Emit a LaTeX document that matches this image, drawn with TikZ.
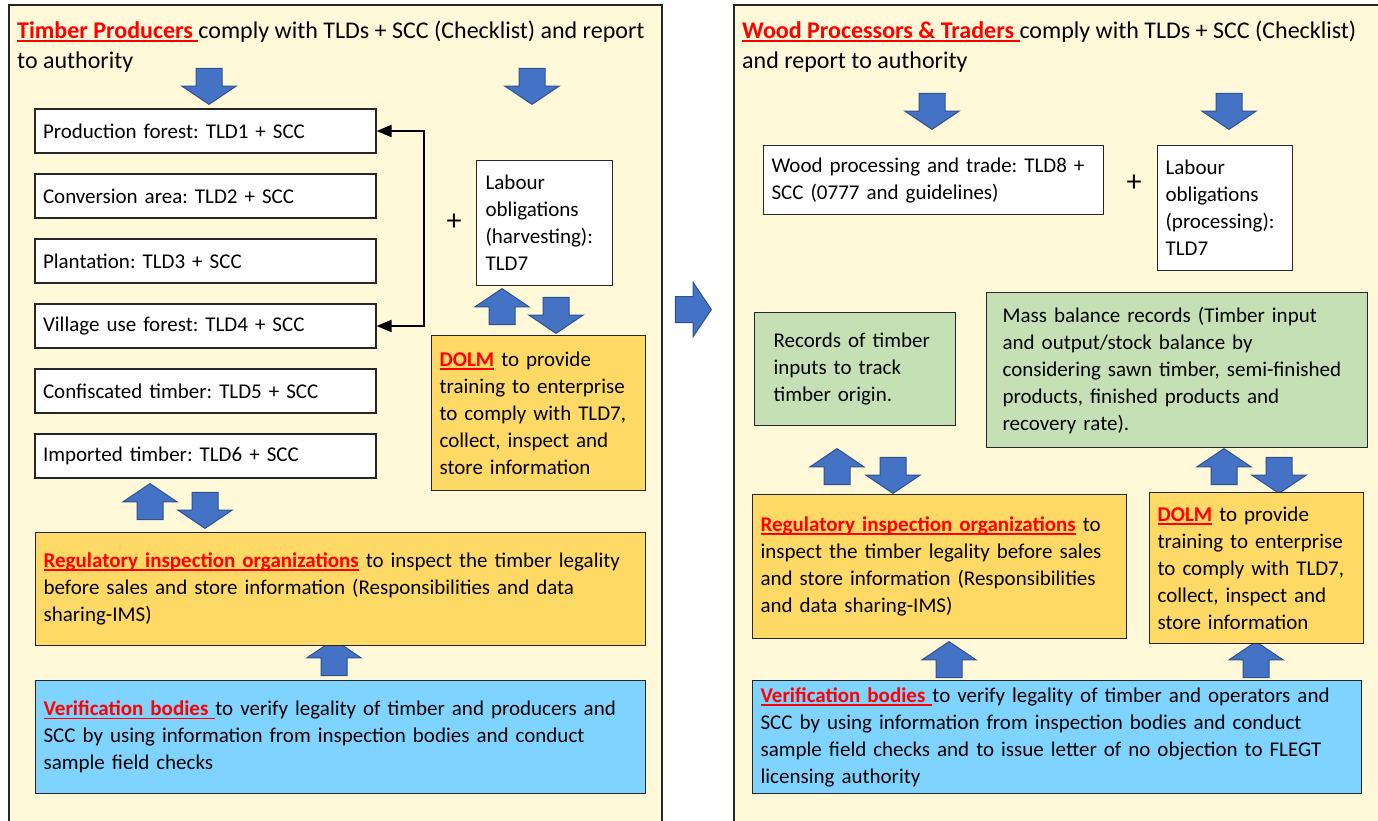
\documentclass[tikz,border=0pt]{standalone}
\usepackage{fontspec}
\setmainfont{Carlito}
\usetikzlibrary{shapes.arrows,arrows.meta}
\definecolor{panelfill}{HTML}{FFF8D9}
\definecolor{gold}{HTML}{FFD966}
\definecolor{mint}{HTML}{C5E0B4}
\definecolor{sky}{HTML}{7FD3FF}
\definecolor{arrowblue}{HTML}{4472C4}
\definecolor{arrowedge}{HTML}{2F528F}
\definecolor{edge}{HTML}{262626}
\newsavebox{\keybox}
\newcommand{\keyterm}[1]{{\color{red}\bfseries\sbox{\keybox}{#1}%
  \rlap{\rule[-3.5pt]{\wd\keybox}{1.8pt}}\usebox{\keybox}}}
\tikzset{
  panel/.style={draw=edge, line width=1.5pt, fill=panelfill},
  box/.style={draw=edge, line width=1.2pt, anchor=north west, align=left,
    inner xsep=8pt, inner ysep=0pt, font=\fontsize{21}{27}\selectfont},
  tldbox/.style={box, fill=white, anchor=center, text width=325pt, minimum height=44pt},
  blk/.style={single arrow, draw=arrowedge, fill=arrowblue, line width=1pt,
    inner xsep=0pt, inner ysep=12.5pt, single arrow head extend=14pt,
    single arrow tip angle=112, minimum height=36pt},
  blkup/.style={blk, rotate=90},
  blkdown/.style={blk, rotate=-90},
  title/.style={anchor=north west, inner sep=0pt, align=left, font=\fontsize{24}{30}\selectfont},
  plus/.style={inner sep=0pt, font=\fontsize{30}{30}\selectfont}
}
\begin{document}
\frenchspacing
\begin{tikzpicture}[x=1pt, y=-1pt]
  \useasboundingbox (0,0) rectangle (1378,820);
  \draw[panel] (9,5) rectangle (662,840);
  \draw[panel] (734,5) rectangle (1400,840);

  % block arrows
  \node foreach \x/\y/\n in {209/82/dA, 532/82/dB, 556/311/dC, 205/506/dD,
    932/107/dE, 1229/107/dF, 893/471/dG, 1279/471/dH} [blkdown] (\n) at (\x,\y) {};
  \node foreach \x/\y/\n in {502/311/uA, 150/506/uB, 334/662/uC,
    837/471/uD, 1224/471/uE, 949/664/uF, 1256/664/uG} [blkup] (\n) at (\x,\y) {};
  \node[blk] (next) at (689,309.5) {};

  % producers
  \node[title] (tp) at (17,17.5) {\strut\keyterm{Timber Producers\ }comply with TLDs + SCC (Checklist) and report\\to authority};
  \node foreach \i/\t in {1/Production forest: TLD1 + SCC, 2/Conversion area: TLD2 + SCC,
    3/Plantation: TLD3 + SCC, 4/Village use forest: TLD4 + SCC,
    5/Confiscated timber: TLD5 + SCC, 6/Imported timber: TLD6 + SCC}
    [tldbox] (tld\i) at (205.5, {131+65*(\i-1)}) {\t};
  \draw[line width=2pt, {Triangle[length=15pt,width=12pt]}-{Triangle[length=15pt,width=12pt]}]
    (tld1.east) -- ++(47,0) |- (tld4.east);
  \node[plus] (plA) at (454,222) {+};
  \node[box, fill=white, inner xsep=9pt, text width=118pt, minimum height=125pt] (labA) at (476,160)
    {Labour\\obligations\\(harvesting):\\TLD7};
  \node[box, fill=gold, text width=198pt, minimum height=155pt] (dolmA) at (431,335)
    {\keyterm{DOLM} to provide\\training to enterprise\\to comply with TLD7,\\collect, inspect and\\store information};
  \node[box, fill=gold, text width=594pt, minimum height=113pt] (regA) at (35,532)
    {\keyterm{Regulatory inspection organizations} to inspect the timber legality\\before sales and store information (Responsibilities and data\\sharing-IMS)};
  \node[box, fill=sky, text width=594pt, minimum height=113pt] (verA) at (35,680)
    {\keyterm{Verification bodies\ }to verify legality of timber and producers and\\SCC by using information from inspection bodies and conduct\\sample field checks};

  % processors and traders
  \node[title] (tw) at (742,17.5) {\strut\keyterm{Wood Processors \& Traders\ }comply with TLDs + SCC (Checklist)\\and report to authority};
  \node[box, fill=white, text width=324pt, minimum height=69pt] (wood) at (763,145)
    {Wood processing and trade: TLD8 +\\SCC (0777 and guidelines)};
  \node[plus] (plB) at (1134,183) {+};
  \node[box, fill=white, text width=119pt, minimum height=125pt] (labB) at (1157,145)
    {Labour\\obligations\\(processing):\\TLD7};
  \node[box, fill=mint, inner xsep=19pt, text width=163pt, minimum height=113pt] (recs) at (754,312)
    {Records of timber\\inputs to track\\timber origin.};
  \node[box, fill=mint, inner xsep=16pt, text width=349pt, minimum height=155pt] (mass) at (986,292)
    {Mass balance records (Timber input\\and output/stock balance by\\considering sawn timber, semi-finished\\products, finished products and\\recovery rate).};
  \node[box, fill=gold, text width=358pt, minimum height=144pt] (regB) at (752,494)
    {\keyterm{Regulatory inspection organizations} to\\inspect the timber legality before sales\\and store information (Responsibilities\\and data sharing-IMS)};
  \node[box, fill=gold, text width=198pt, minimum height=151pt] (dolmB) at (1149,492)
    {\keyterm{DOLM} to provide\\training to enterprise\\to comply with TLD7,\\collect, inspect and\\store information};
  \node[box, fill=sky, text width=593pt, minimum height=113pt] (verB) at (752,680)
    {\keyterm{Verification bodies\ }to verify legality of timber and operators and\\SCC by using information from inspection bodies and conduct\\sample field checks and to issue letter of no objection to FLEGT\\licensing authority};
\end{tikzpicture}
\end{document}
